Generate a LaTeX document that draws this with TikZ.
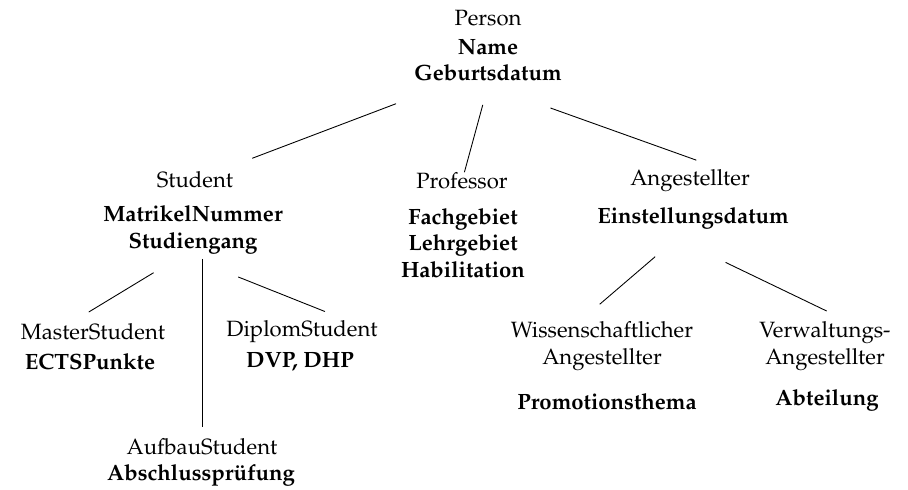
\documentclass[tikz,border=0pt]{standalone}
\usepackage[T1]{fontenc}
\usepackage{mathpazo}
\usepackage{tikz}
\tikzset{klasse/.style={inner sep=2pt}, attribut/.style={font=\bfseries,align=center,inner sep=2pt}}

\begin{document}
\begin{tikzpicture}[scale=.795]%the class hierarchy of Person
\useasboundingbox (0,0) rectangle (18.16,-9.78);
%the root class and its attributes
\node[klasse] (person) at (9.76,-.36) {Person}; \node[attribut] (personattr) at (9.76,-1.2) {Name\\Geburtsdatum};
%first level: Student, Professor, Angestellter
\node[klasse] (student) at (3.9,-3.6) {Student}; \node[attribut] (studentattr) at (3.86,-4.6) {MatrikelNummer\\Studiengang};
\node[klasse] (professor) at (9.24,-3.62) {Professor}; \node[attribut] (professorattr) at (9.26,-4.86) {Fachgebiet\\Lehrgebiet\\Habilitation};
\node[klasse] (angestellter) at (13.8,-3.62) {Angestellter}; \node[attribut] (angestellterattr) at (13.86,-4.36) {Einstellungsdatum};
%subclasses of Student
\node[klasse] (master) at (1.86,-6.64) {MasterStudent}; \node[attribut] (masterattr) at (1.8,-7.24) {ECTSPunkte};
\node[klasse] (diplom) at (6.04,-6.64) {DiplomStudent}; \node[attribut] (diplomattr) at (6,-7.24) {DVP, DHP};
\node[klasse] (aufbau) at (4.04,-8.94) {AufbauStudent}; \node[attribut] (aufbauattr) at (4.02,-9.5) {Abschlusspr\"ufung};
%subclasses of Angestellter
\node[klasse,align=center] (wiss) at (12.04,-6.92) {Wissenschaftlicher\\Angestellter}; \node[attribut] (wissattr) at (12.14,-8.04) {Promotionsthema};
\node[klasse,align=center] (verw) at (16.5,-6.92) {Verwaltungs-\\Angestellter}; \node[attribut] (verwattr) at (16.54,-8) {Abteilung};
%edges of the hierarchy
\draw[shorten <=23pt, shorten >=11pt] (personattr.-150) -- (student);
\draw[shorten <=9pt, shorten >=-2pt] (personattr.south) -- (professor);
\draw[shorten <=30pt, shorten >=28pt] (personattr.south) -- (angestellter.east);
\draw[shorten <=12pt, shorten >=6pt] (studentattr.-120) -- (master.140);
\draw[shorten >=3pt] (aufbau.north |- studentattr.south) -- (aufbau.north);
\draw[shorten <=22pt, shorten >=5.5pt] (studentattr.south) -- (diplom.25);
\draw[shorten <=16pt, shorten >=8.7pt] (angestellterattr.-125) -- (wiss.120);
\draw[shorten <=30pt, shorten >=6pt] (angestellterattr.-150) -- (verw.65);
\end{tikzpicture}
\end{document}
